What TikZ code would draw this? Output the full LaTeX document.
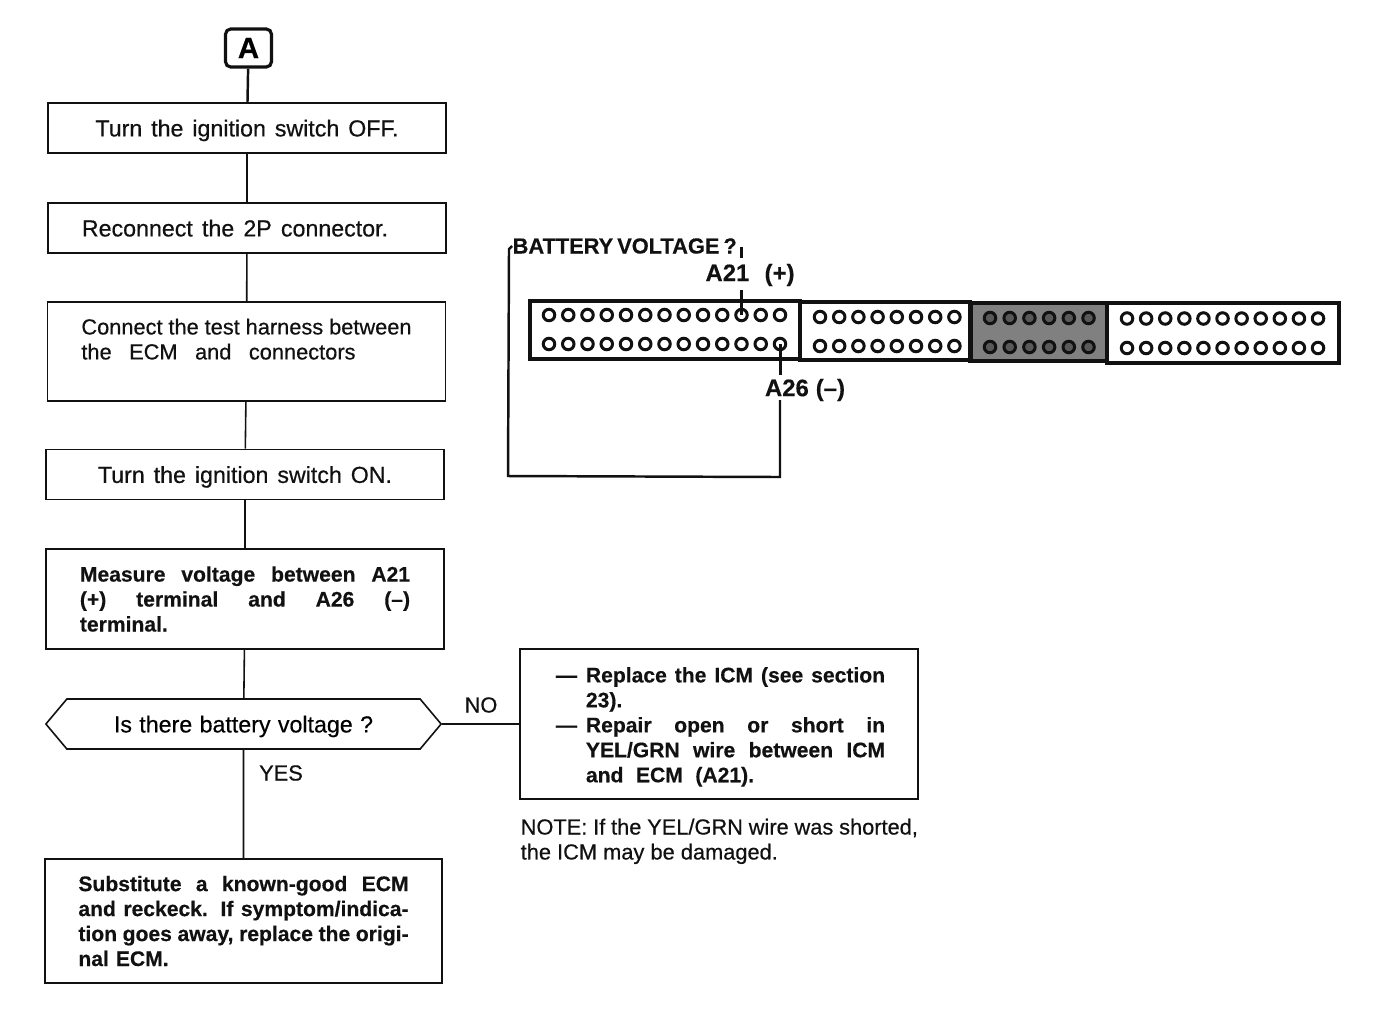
\documentclass[tikz,border=0pt]{standalone}
\usepackage{fontspec}
\setmainfont[UprightFeatures={FakeBold=0.5},BoldFeatures={FakeBold=0.4}]{Liberation Sans}
\usetikzlibrary{shapes.symbols}
\definecolor{ecmink}{HTML}{111111}
\newcommand{\fitline}[2][3.3cm]{\makebox[#1][s]{\spaceskip=0pt\xspaceskip=0pt #2}}
\tikzstyle{ecmbox}=[draw=ecmink,line width=0.45pt,text=ecmink,minimum height=0.5cm,minimum width=3.98cm,
  align=left,font=\fontsize{6.2}{7.1}\selectfont,inner sep=0pt,text width=3.3cm]
\tikzstyle{ecmhead}=[ecmbox,align=center,text depth=0pt,font=\fontsize{6.6}{7.1}\selectfont]
\tikzstyle{ecmbold}=[ecmbox,font=\fontsize{6}{7.1}\selectfont\bfseries]
\tikzstyle{ecmlink}=[draw=ecmink,line width=0.45pt]
\tikzstyle{ecmlabel}=[text=ecmink,inner sep=0pt,font=\fontsize{6.2}{7.1}\selectfont]
\tikzstyle{ecmtag}=[ecmlabel,font=\fontsize{6.2}{7.1}\selectfont\bfseries]
\tikzstyle{ecmconn}=[draw=ecmink,line width=1.3pt,fill=white,inner sep=0pt]
\tikzstyle{ecmpin}=[draw=ecmink,line width=0.85pt,circle,minimum size=0.115cm,inner sep=0pt]
\begin{document}
\begin{tikzpicture}[x=0.01cm,y=-0.01cm]
    \useasboundingbox (0,0) rectangle (1392,1030);
    % ---- flow chart ----
    \node[draw=ecmink,line width=0.9pt,rounded corners=1.5pt,minimum width=0.46cm,minimum height=0.38cm,
          inner sep=0pt,font=\fontsize{8.4}{10}\selectfont\bfseries] (start) at (248.5,48) {A};
    \node[ecmhead] (off) at (247,128) {\fitline[3.03cm]{Turn the ignition switch OFF.}};
    \node[ecmhead,align=left] (recon) at (247,228) {\fitline[3.06cm]{Reconnect the 2P connector.}};
    \node[ecmbox,minimum height=0.99cm] (harn) at (246.5,351.5) {\fitline{Connect the test harness between}\\\fitline[2.74cm]{the ECM and connectors}\\~};
    \node[ecmhead] (on) at (245,474.5) {\fitline[2.94cm]{Turn the ignition switch ON.}};
    \node[ecmbold,minimum height=1cm] (meas) at (245,599) {\fitline{Measure voltage between A21}\\\fitline{(+) terminal and A26 (–)}\\terminal.};
    \node[signal,signal to=east and west,signal pointer angle=100,draw=ecmink,line width=0.45pt,text depth=0pt,
          minimum width=3.95cm,minimum height=0.5cm,inner sep=0pt,font=\fontsize{6.6}{7.1}\selectfont] (batq) at (243.5,724) {\fitline[2.59cm]{Is there battery voltage ?}};
    \node[ecmbold,minimum width=3.97cm,minimum height=1.24cm] (subst) at (243.5,921) {\fitline{Substitute a known-good ECM}\\\fitline{and reckeck. If symptom/indica-}\\\fitline{tion goes away, replace the origi-}\\nal ECM.};
    \draw[ecmlink,line width=0.7pt] (start) -- (off);
    \draw[ecmlink] (off) -- (recon);
    \draw[ecmlink] (recon) -- (harn);
    \draw[ecmlink] (harn) -- (on);
    \draw[ecmlink] (on) -- (meas);
    \draw[ecmlink] (meas) -- (batq);
    \draw[ecmlink] (batq) -- (subst);
    \node[ecmlabel] (yes) at (281,773) {YES};
    % ---- NO branch ----
    \node[ecmbold,minimum width=3.98cm,minimum height=1.5cm,text width=3.32cm] (fix) at (719,724) {\rule{0pt}{0.21cm}\makebox[0.33cm][l]{\hspace{0.03cm}—}\fitline[2.99cm]{Replace the ICM (see section}\\\hspace*{0.33cm}23).\\\makebox[0.33cm][l]{\hspace{0.03cm}—}\fitline[2.99cm]{Repair open or short in}\\\hspace*{0.33cm}\fitline[2.99cm]{YEL/GRN wire between ICM}\\\hspace*{0.33cm}\fitline[1.68cm]{and ECM (A21).}};
    \draw[ecmlink] (batq) -- (fix);
    \node[ecmlabel] (no) at (481,705) {NO};
    \node[ecmlabel,anchor=north west,align=left] (note) at (520,818) {\fitline[3.97cm]{NOTE: If the YEL/GRN wire was shorted,}\\\fitline[2.57cm]{the ICM may be damaged.}};
    % ---- connector ----
    \node[ecmconn,minimum width=2.7cm,minimum height=0.58cm] (blocka) at (665,330) {};
    \node[ecmconn,minimum width=1.7cm,minimum height=0.58cm] (blockb) at (885,331) {};
    \node[ecmconn,fill=black!50,minimum width=1.37cm,minimum height=0.58cm] (blockc) at (1039,332) {};
    \node[ecmconn,minimum width=2.32cm,minimum height=0.6cm] (blockd) at (1223,333) {};
    \foreach \n in {0,...,12} {
      \node[ecmpin] (pa\n) at (549+19.25*\n,315) {};
      \node[ecmpin] (qa\n) at (549+19.25*\n,344) {};
    }
    \foreach \n in {0,...,7} {
      \node[ecmpin] (pb\n) at (820+19.2*\n,317) {};
      \node[ecmpin] (qb\n) at (820+19.2*\n,346) {};
    }
    \foreach \n in {0,...,5} {
      \node[ecmpin,fill=black!65] (pc\n) at (990+19.7*\n,318) {};
      \node[ecmpin,fill=black!65] (qc\n) at (990+19.7*\n,347) {};
    }
    \foreach \n in {0,...,10} {
      \node[ecmpin] (pd\n) at (1127+19.1*\n,318.5) {};
      \node[ecmpin] (qd\n) at (1127+19.1*\n,348) {};
    }
    % ---- meter leads ----
    \node[ecmtag,anchor=west] (batt) at (512,246) {\fitline[2.23cm]{BATTERY VOLTAGE ?}};
    \node[ecmtag,font=\fontsize{6.8}{7.1}\selectfont\bfseries] (plus) at (750,275) {\fitline[0.89cm]{A21 (+)}};
    \node[ecmtag,font=\fontsize{6.8}{7.1}\selectfont\bfseries] (minus) at (805,390) {\fitline[0.8cm]{A26 (–)}};
    \coordinate (tipa) at (741.5,258);
    \coordinate (tipb) at (741.5,247);
    \coordinate (leada) at (741.5,290);
    \coordinate (leadb) at (780,375);
    \coordinate (leadc) at (780,400);
    \coordinate (cornera) at (508,476);
    \coordinate (cornerb) at (780,477);
    \coordinate (topa) at (509,249);
    \draw[ecmlink,line width=0.8pt] (tipb) -- (tipa);
    \draw[ecmlink,line width=0.6pt] (leada) -- (pa10.center);
    \draw[ecmlink,line width=0.85pt] (qa12.center) -- (leadb);
    \draw[ecmlink,line width=0.7pt] (batt.west) -- (topa) -- (cornera) -- (cornerb) -- (leadc);
\end{tikzpicture}
\end{document}
